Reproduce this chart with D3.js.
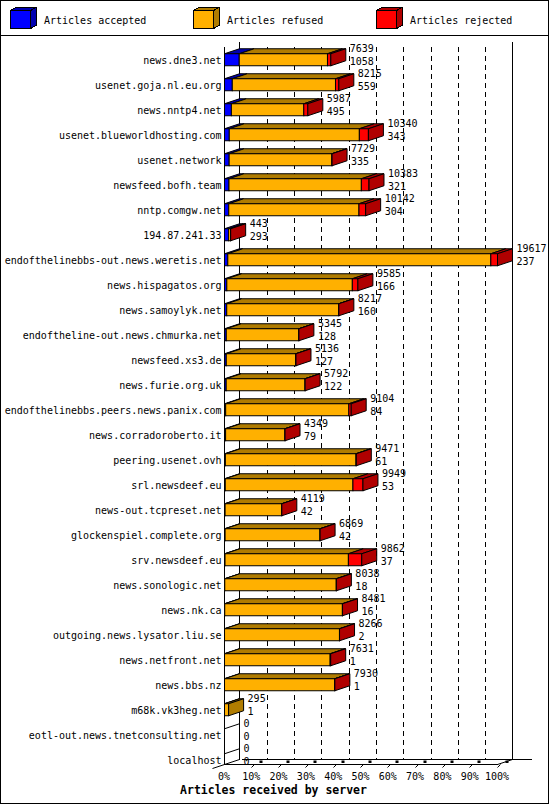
<!DOCTYPE html>
<html>
<head>
<meta charset="utf-8">
<script src="https://cdn.jsdelivr.net/npm/d3@7"></script>
<style>
    body { margin: 0; background: #fff; }
    svg { display: block; }
    text { font-family: "DejaVu Sans Mono", monospace; font-size: 10px; fill: #000; }
</style>
</head>
<body>
<svg id="chart" width="550" height="805"></svg>
<script>
const categories = [
    "news.dne3.net", "usenet.goja.nl.eu.org", "news.nntp4.net", "usenet.blueworldhosting.com",
    "usenet.network", "newsfeed.bofh.team", "nntp.comgw.net", "194.87.241.33",
    "endofthelinebbs-out.news.weretis.net", "news.hispagatos.org", "news.samoylyk.net",
    "endoftheline-out.news.chmurka.net", "newsfeed.xs3.de", "news.furie.org.uk",
    "endofthelinebbs.peers.news.panix.com", "news.corradoroberto.it", "peering.usenet.ovh",
    "srl.newsdeef.eu", "news-out.tcpreset.net", "glockenspiel.complete.org", "srv.newsdeef.eu",
    "news.sonologic.net", "news.nk.ca", "outgoing.news.lysator.liu.se", "news.netfront.net",
    "news.bbs.nz", "m68k.vk3heg.net", "eotl-out.news.tnetconsulting.net", "localhost"
];
const accepted = [1058, 559, 495, 343, 335, 321, 304, 293, 237, 166, 160, 128, 127, 122,
    84, 79, 61, 53, 42, 42, 37, 18, 16, 2, 1, 1, 1, 0, 0];
const refused = [6341, 7416, 5202, 9347, 7379, 9512, 9358, 140, 18900, 9019, 8047, 5212, 4989, 5665,
    8850, 4265, 9390, 9176, 4067, 6822, 8865, 8015, 8455, 8259, 7590, 7914, 294, 0, 0];
const rejected = [240, 240, 290, 650, 15, 550, 480, 10, 480, 400, 10, 5, 20, 5,
    170, 5, 20, 720, 10, 5, 960, 5, 10, 5, 40, 15, 0, 0, 0];
const percentTicks = [0, 10, 20, 30, 40, 50, 60, 70, 80, 90, 100];

const seriesKeys = ["accepted", "refused", "rejected"];
const seriesNames = ["Articles accepted", "Articles refused", "Articles rejected"];
const faceColor = { accepted: "#0000ff", refused: "#ffb000", rejected: "#ff0000" };
const darkColor = { accepted: "#0000b0", refused: "#b07c00", rejected: "#b00000" };

const dx = 15, dy = 5;
const floorY = 764.5;

const rows = categories.map((c, i) => ({
    name: c,
    accepted: accepted[i],
    refused: refused[i],
    rejected: rejected[i],
    total: accepted[i] + refused[i] + rejected[i]
}));

const svg = d3.select("#chart");

// frame + legend
svg.append("rect")
    .attr("x", 0.5).attr("y", 0.5).attr("width", 548).attr("height", 803)
    .attr("fill", "#fff").attr("stroke", "#000").attr("shape-rendering", "crispEdges");
svg.append("line")
    .attr("x1", 0).attr("x2", 549).attr("y1", 35).attr("y2", 35)
    .attr("stroke", "#000").attr("shape-rendering", "crispEdges");

const legend = svg.append("g").attr("shape-rendering", "crispEdges");
seriesKeys.forEach((k, i) => {
    const lx = 10.5 + i * 183;
    const g = legend.append("g");
    g.append("polygon")
        .attr("points", [[lx, 10.5], [lx + 5.5, 7.5], [lx + 25.5, 7.5], [lx + 20, 10.5]].join(" "))
        .attr("fill", darkColor[k]).attr("stroke", "#000");
    g.append("polygon")
        .attr("points", [[lx + 20, 10.5], [lx + 25.5, 7.5], [lx + 25.5, 25.5], [lx + 20, 28.5]].join(" "))
        .attr("fill", darkColor[k]).attr("stroke", "#000");
    g.append("rect")
        .attr("x", lx).attr("y", 10.5).attr("width", 20).attr("height", 18)
        .attr("fill", faceColor[k]).attr("stroke", "#000");
    g.append("text")
        .attr("x", lx + 33.5).attr("y", 24)
        .text(seriesNames[i]);
});

// scales
const x = d3.scaleLinear()
    .domain([0, d3.max(rows, d => d.total)])
    .range([224.5, 497.5]);
const pct = d3.scaleLinear().domain([0, 100]).range([224.5, 497.5]);
const y = d3.scaleBand()
    .domain(categories)
    .range([47, 47 + 25 * categories.length])
    .paddingInner(0.5)
    .paddingOuter(0.25);

// back wall grid
const grid = svg.append("g").attr("shape-rendering", "crispEdges");
grid.selectAll("line.grid")
    .data(percentTicks.slice(1, -1))
    .join("line")
    .attr("class", "grid")
    .attr("x1", d => Math.round(pct(d) + dx) + 0.5)
    .attr("x2", d => Math.round(pct(d) + dx) + 0.5)
    .attr("y1", 47).attr("y2", floorY - dy)
    .attr("stroke", "#000")
    .attr("stroke-dasharray", "5,4");

// walls and floor
const frame = svg.append("g").attr("stroke", "#000").attr("fill", "none");
frame.append("line")
    .attr("x1", pct(0) + dx).attr("x2", pct(0) + dx).attr("y1", 42).attr("y2", floorY - dy)
    .attr("shape-rendering", "crispEdges");
frame.append("line")
    .attr("x1", pct(100) + dx).attr("x2", pct(100) + dx).attr("y1", 42).attr("y2", floorY - dy)
    .attr("shape-rendering", "crispEdges");
frame.append("line")
    .attr("x1", pct(0)).attr("x2", pct(0)).attr("y1", 47).attr("y2", floorY)
    .attr("shape-rendering", "crispEdges");
frame.append("line")
    .attr("x1", pct(0) + dx + 2).attr("x2", pct(100) + dx + 19).attr("y1", floorY - dy).attr("y2", floorY - dy)
    .attr("shape-rendering", "crispEdges");
frame.append("line")
    .attr("x1", pct(0)).attr("x2", pct(100)).attr("y1", floorY).attr("y2", floorY)
    .attr("shape-rendering", "crispEdges");
frame.append("line")
    .attr("x1", pct(0) + dx).attr("y1", floorY - dy)
    .attr("x2", pct(0) - 12).attr("y2", floorY + 4);
frame.append("line")
    .attr("x1", pct(100)).attr("y1", floorY)
    .attr("x2", pct(100) + dx).attr("y2", floorY - dy);

// floor ticks
const ticks = svg.append("g");
percentTicks.slice(1).forEach(t => {
    const fx = Math.round(pct(t)) + 0.5;
    ticks.append("line")
        .attr("x1", fx - 1).attr("y1", floorY + 3)
        .attr("x2", fx + 2).attr("y2", floorY)
        .attr("stroke", "#000");
    ticks.append("rect")
        .attr("x", fx + 7).attr("y", floorY - 4).attr("width", 3).attr("height", 2.5)
        .attr("fill", "#000");
});

const xAxis = svg.append("g")
    .attr("transform", `translate(0, ${floorY})`)
    .call(d3.axisBottom(pct).tickValues(percentTicks).tickFormat(d => d + "%").tickSize(0).tickPadding(8));
xAxis.select(".domain").remove();
xAxis.selectAll("text")
    .attr("font-family", "DejaVu Sans Mono, monospace")
    .attr("font-size", 10)
    .attr("fill", "#000")
    .attr("dx", -1);

svg.append("text")
    .attr("x", 273.5).attr("y", 794)
    .attr("text-anchor", "middle")
    .style("font-size", "11.5px")
    .style("font-weight", "bold")
    .text("Articles received by server");

// bars
const stacked = d3.stack().keys(seriesKeys)(rows);
const bars = svg.append("g").attr("stroke", "#000");

rows.forEach((r, i) => {
    const yt = y(r.name) + 0.5;
    const yb = yt + 12;
    const g = bars.append("g");
    let last = null;
    stacked.forEach(s => {
        const [v0, v1] = s[i];
        if (v1 - v0 <= 0) return;
        const x0 = x(v0), x1 = x(v1);
        g.append("polygon")
            .attr("points", [[x0, yt], [x0 + dx, yt - dy], [x1 + dx, yt - dy], [x1, yt]].join(" "))
            .attr("fill", darkColor[s.key]);
        g.append("rect")
            .attr("x", x0).attr("y", yt)
            .attr("width", x1 - x0).attr("height", yb - yt)
            .attr("fill", faceColor[s.key]);
        last = { key: s.key, x1: x1 };
    });
    if (last) {
        g.append("polygon")
            .attr("points", [[last.x1, yt], [last.x1 + dx, yt - dy], [last.x1 + dx, yb - dy], [last.x1, yb]].join(" "))
            .attr("fill", darkColor[last.key]);
    } else {
        g.append("line")
            .attr("x1", x(0)).attr("y1", yt)
            .attr("x2", x(0) + dx).attr("y2", yt - dy);
    }
});

// category labels
svg.append("g").selectAll("text")
    .data(rows)
    .join("text")
    .attr("x", 221.5)
    .attr("y", d => y(d.name) + y.bandwidth() - 1.5)
    .attr("text-anchor", "end")
    .text(d => d.name);

// value labels
const vals = svg.append("g");
vals.selectAll("text.total")
    .data(rows)
    .join("text")
    .attr("class", "total")
    .attr("x", d => x(d.total) + dx + 4)
    .attr("y", d => y(d.name) + y.bandwidth() - 13.5)
    .text(d => d.total);
vals.selectAll("text.acc")
    .data(rows)
    .join("text")
    .attr("class", "acc")
    .attr("x", d => x(d.total) + dx + 4)
    .attr("y", d => y(d.name) + y.bandwidth() - 0.5)
    .text(d => d.accepted);
</script>
</body>
</html>
